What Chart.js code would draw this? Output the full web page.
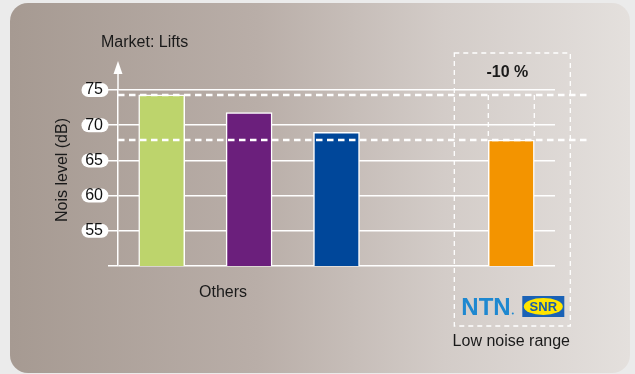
<!DOCTYPE html>
<html>
<head>
<meta charset="utf-8">
<script src="https://cdn.jsdelivr.net/npm/chart.js@4"></script>
<style>
    html, body { margin: 0; padding: 0; background: #ebebeb; }
    .wrap { position: relative; width: 635px; height: 374px; overflow: hidden; }
    .panel {
        position: absolute; left: 10px; top: 3px; width: 620px; height: 370px;
        border-radius: 18px;
        background: linear-gradient(90deg, #a69a92 0%, #b9aea8 40%, #d3ccc8 70%, #e4e0dd 100%);
    }
    canvas { position: absolute; left: 0; top: 0; }
</style>
</head>
<body>
<div class="wrap">
    <div class="panel"></div>
    <canvas id="noiseChart" width="635" height="374"></canvas>
</div>
<script>
const categories = ['Others A', 'Others B', 'Others C', '', 'NTN-SNR'];
const noiseLevels = [74.3, 71.8, 69.0, null, 67.9];
const barColors = ['#bdd46c', '#6b1f7c', '#00479a', '#f39400', '#f39400'];
const yTicks = [55, 60, 65, 70, 75];
const reduction = '-10 %';

document.addEventListener('DOMContentLoaded', function () {
    const canvas = document.getElementById('noiseChart');
    const ink = '#1a1a1a';
    const font = '"Liberation Sans", Arial, sans-serif';

    const dashedLine = (ctx, x1, y1, x2, y2, width, dash) => {
        ctx.save();
        ctx.strokeStyle = '#ffffff';
        ctx.lineWidth = width;
        ctx.setLineDash(dash);
        ctx.beginPath();
        ctx.moveTo(x1, y1);
        ctx.lineTo(x2, y2);
        ctx.stroke();
        ctx.restore();
    };

    const decorations = {
        id: 'decorations',
        beforeDraw(chart) {
            // white pills behind the y tick labels
            const ctx = chart.ctx;
            const y = chart.scales.y;
            ctx.save();
            ctx.fillStyle = '#ffffff';
            yTicks.forEach((v) => {
                const py = y.getPixelForValue(v);
                const cx = chart.chartArea.left - 23;
                ctx.beginPath();
                ctx.roundRect(cx - 13.5, py - 7, 27, 14, 7);
                ctx.fill();
            });
            ctx.restore();
        },
        afterDatasetsDraw(chart) {
            const ctx = chart.ctx;
            const y = chart.scales.y;
            const area = chart.chartArea;
            const bars = chart.getDatasetMeta(0).data;
            const topY = y.getPixelForValue(noiseLevels[0]);
            const lowY = y.getPixelForValue(noiseLevels[4]);

            dashedLine(ctx, area.left, topY, 588, topY, 2.5, [6.5, 4.5]);
            dashedLine(ctx, area.left, lowY, 588, lowY, 2.5, [6.5, 4.5]);

            const ntn = bars[4];
            const half = ntn.width / 2;
            dashedLine(ctx, ntn.x - half, topY, ntn.x - half, lowY, 1.3, [5, 4]);
            dashedLine(ctx, ntn.x + half, topY, ntn.x + half, lowY, 1.3, [5, 4]);

            // dashed frame around the low noise range
            const bx1 = ntn.x - 57, bx2 = ntn.x + 59, by1 = 53, by2 = 326;
            ctx.save();
            ctx.strokeStyle = '#ffffff';
            ctx.lineWidth = 1.3;
            ctx.setLineDash([5, 4]);
            ctx.strokeRect(bx1, by1, bx2 - bx1, by2 - by1);
            ctx.restore();
        },
        afterDraw(chart) {
            const ctx = chart.ctx;
            const area = chart.chartArea;
            const ntnX = chart.getDatasetMeta(0).data[4].x;

            // y axis arrow
            ctx.save();
            ctx.strokeStyle = '#ffffff';
            ctx.fillStyle = '#ffffff';
            ctx.lineWidth = 1.5;
            ctx.beginPath();
            ctx.moveTo(area.left, area.top);
            ctx.lineTo(area.left, 70);
            ctx.stroke();
            ctx.beginPath();
            ctx.moveTo(area.left, 61);
            ctx.lineTo(area.left - 4.5, 74);
            ctx.lineTo(area.left + 4.5, 74);
            ctx.closePath();
            ctx.fill();
            ctx.restore();

            ctx.save();
            ctx.fillStyle = ink;
            ctx.textBaseline = 'middle';
            ctx.font = '16px ' + font;
            ctx.textAlign = 'left';
            ctx.fillText('Market: Lifts', 101, 43);
            ctx.textAlign = 'center';
            ctx.fillText('Others', 223, 293);
            ctx.fillText('Low noise range', ntnX, 342);
            ctx.font = 'bold 16px ' + font;
            ctx.fillText(reduction, ntnX - 4, 73);

            ctx.translate(63, 170);
            ctx.rotate(-Math.PI / 2);
            ctx.font = '16px ' + font;
            ctx.fillText('Nois level (dB)', 0, 0);
            ctx.restore();

            // NTN / SNR logos
            ctx.save();
            ctx.fillStyle = '#1e88d0';
            ctx.font = 'bold 24px ' + font;
            ctx.textAlign = 'left';
            ctx.textBaseline = 'alphabetic';
            ctx.fillText('NTN', ntnX - 50, 315);
            ctx.beginPath();
            ctx.arc(ntnX + 1.5, 313.5, 1, 0, Math.PI * 2);
            ctx.fill();

            const sx = ntnX + 11, sy = 296;
            ctx.fillStyle = '#1a62b6';
            ctx.fillRect(sx, sy, 42, 21);
            ctx.fillStyle = '#ffe500';
            ctx.beginPath();
            ctx.ellipse(sx + 21, sy + 10.5, 19.5, 8.5, 0, 0, Math.PI * 2);
            ctx.fill();
            ctx.fillStyle = '#1a5cab';
            ctx.font = 'bold 13px ' + font;
            ctx.textAlign = 'center';
            ctx.textBaseline = 'middle';
            ctx.fillText('SNR', sx + 21, sy + 11);
            ctx.restore();
        },
    };

    new Chart(canvas.getContext('2d'), {
        type: 'bar',
        data: {
            labels: categories,
            datasets: [
                {
                    data: noiseLevels,
                    backgroundColor: barColors,
                    borderColor: '#ffffff',
                    borderWidth: 1.5,
                    barThickness: 46,
                },
            ],
        },
        options: {
            responsive: false,
            animation: false,
            layout: { padding: { left: 54, top: 90, right: 80, bottom: 108 } },
            plugins: {
                legend: { display: false },
                tooltip: { enabled: false },
            },
            scales: {
                x: { display: false },
                y: {
                    min: 50,
                    max: 75,
                    afterFit: (scale) => { scale.width = 64; },
                    afterBuildTicks: (scale) => {
                        scale.ticks = [50].concat(yTicks).map((v) => ({ value: v }));
                    },
                    ticks: {
                        color: '#111111',
                        padding: 5,
                        font: { family: font, size: 16 },
                        callback: (v) => (v === 50 ? '' : String(v)),
                    },
                    grid: { color: '#ffffff', lineWidth: 1.5, tickLength: 10 },
                    border: { color: '#ffffff', width: 1.5 },
                },
            },
        },
        plugins: [decorations],
    });
});
</script>
</body>
</html>
